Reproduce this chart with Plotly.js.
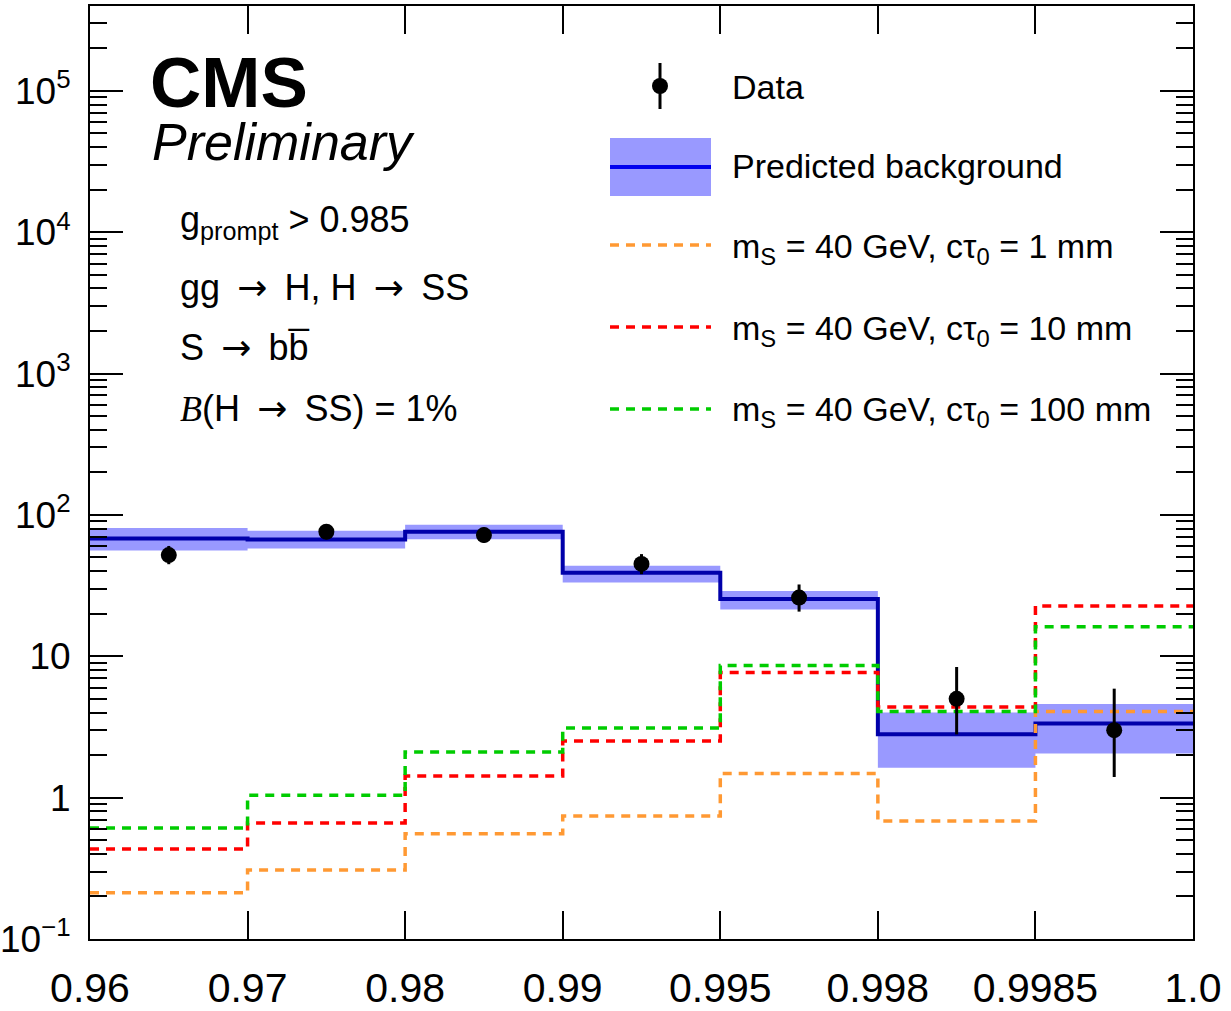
<!DOCTYPE html>
<html>
<head>
<meta charset="utf-8">
<script src="https://cdn.plot.ly/plotly-3.0.1.min.js"></script>
<style>html,body{margin:0;padding:0;background:#fff;}#chart{width:1231px;height:1011px;}</style>
</head>
<body>
<div id="chart"></div>
<script>
// ---- data ----
const binEdgeLabels = ['0.96','0.97','0.98','0.99','0.995','0.998','0.9985','1.0'];
const bkg       = [68, 67, 76, 39, 25.4, 2.81, 3.34];
const bkgUp     = [80.7, 77.2, 85.1, 43.6, 29.0, 4.0, 4.6];
const bkgDown   = [56, 57.8, 67.4, 33.2, 21.4, 1.63, 2.05];
const dataY     = [52, 76, 72, 45, 26, 5, 3];
const dataErrUp   = [8.3, 9.8, 9.5, 7.8, 6.2, 3.4, 2.9];
const dataErrDown = [7.2, 8.7, 8.5, 6.9, 5.3, 2.2, 1.6];
const sig1mm    = [0.212, 0.308, 0.556, 0.74, 1.48, 0.684, 4.06];
const sig10mm   = [0.434, 0.662, 1.42, 2.52, 7.67, 4.38, 22.7];
const sig100mm  = [0.61, 1.04, 2.10, 3.11, 8.59, 4.06, 16.2];
const yTickVals = [0.1, 1, 10, 100, 1000, 10000, 100000];
const yTickText = ['10<sup>\u22121</sup>','1','10','10<sup>2</sup>','10<sup>3</sup>','10<sup>4</sup>','10<sup>5</sup>'];

const C_BAND = '#9999ff', C_BKG = '#0000aa', C_ORANGE = '#ff9933', C_RED = '#ff0000', C_GREEN = '#00cc00';
const FONT = 'Liberation Sans, Arial, sans-serif';
const DASH = '9px,7px';

const nb = bkg.length;
const edges = binEdgeLabels.map((_, i) => i);
const centers = dataY.map((_, i) => i + 0.5);
const stepY = arr => arr.concat([arr[arr.length - 1]]);

// band polygons
const bx = [], by = [];
for (let i = 0; i < nb; i++) {
  bx.push(i, i + 1, i + 1, i, i, null);
  by.push(bkgDown[i], bkgDown[i], bkgUp[i], bkgUp[i], bkgDown[i], null);
}

const traces = [
  {x: bx, y: by, type: 'scatter', mode: 'lines', fill: 'toself', fillcolor: C_BAND,
   line: {width: 0, color: C_BAND}, hoverinfo: 'skip'},
  {x: edges, y: stepY(bkg), type: 'scatter', mode: 'lines', line: {shape: 'hv', color: C_BKG, width: 4}},
  {x: edges, y: stepY(sig1mm), type: 'scatter', mode: 'lines', line: {shape: 'hv', color: C_ORANGE, width: 3.5, dash: DASH}},
  {x: edges, y: stepY(sig10mm), type: 'scatter', mode: 'lines', line: {shape: 'hv', color: C_RED, width: 3.5, dash: DASH}},
  {x: edges, y: stepY(sig100mm), type: 'scatter', mode: 'lines', line: {shape: 'hv', color: C_GREEN, width: 3.5, dash: DASH}},
  {x: centers, y: dataY, type: 'scatter', mode: 'markers',
   marker: {color: 'black', size: 16},
   error_y: {type: 'data', symmetric: false, array: dataErrUp, arrayminus: dataErrDown,
             thickness: 3, width: 0, color: 'black'}}
];

// minor ticks on log axis
const minorVals = [];
for (let e = -1; e <= 5; e++) for (let d = 2; d <= 9; d++) minorVals.push(d * Math.pow(10, e));

// geometry in pixels
const W = 1231, H = 1011, L = 90, R = 38, T = 6, B = 72;
const pw = W - L - R, ph = H - T - B;
const px = x => (x - L) / pw;
const py = y => (H - B - y) / ph;

const shapes = [
  {type: 'line', xref: 'paper', yref: 'paper', x0: px(660), x1: px(660), y0: py(63), y1: py(109), line: {color: 'black', width: 3}},
  {type: 'circle', xref: 'paper', yref: 'paper', x0: px(652), x1: px(668), y0: py(78), y1: py(94), fillcolor: 'black', line: {color: 'black', width: 0}},
  {type: 'rect', xref: 'paper', yref: 'paper', x0: px(610), x1: px(711), y0: py(138), y1: py(196), fillcolor: C_BAND, line: {width: 0}},
  {type: 'line', xref: 'paper', yref: 'paper', x0: px(610), x1: px(711), y0: py(167), y1: py(167), line: {color: '#0000ee', width: 4}},
  {type: 'line', xref: 'paper', yref: 'paper', x0: px(610), x1: px(711), y0: py(245), y1: py(245), line: {color: C_ORANGE, width: 3.5, dash: DASH}},
  {type: 'line', xref: 'paper', yref: 'paper', x0: px(610), x1: px(711), y0: py(327), y1: py(327), line: {color: C_RED, width: 3.5, dash: DASH}},
  {type: 'line', xref: 'paper', yref: 'paper', x0: px(610), x1: px(711), y0: py(409), y1: py(409), line: {color: C_GREEN, width: 3.5, dash: DASH}}
];

function ann(text, x, y, size, extra) {
  return Object.assign({text: text, xref: 'paper', yref: 'paper', x: px(x), y: py(y),
    xanchor: 'left', yanchor: 'middle', showarrow: false,
    font: {family: FONT, size: size, color: 'black'}}, extra || {});
}
const ARROW = '<span style="font-family:DejaVu Sans">\u2009\u2192\u2009</span>';

const annotations = [
  ann('<b>CMS</b>', 148, 82, 71),
  ann('<i>Preliminary</i>', 150, 142, 52),
  ann('g<sub>prompt</sub> > 0.985', 178, 222, 36),
  ann('gg ' + ARROW + ' H, H ' + ARROW + ' SS', 178, 287, 36),
  ann('S ' + ARROW + ' bb\u0305', 178, 347, 36),
  ann('<span style="font-family:Liberation Serif"><i>B</i></span>(H ' + ARROW + ' SS) = 1%', 178, 408, 36),
  ann('Data', 730, 87, 34),
  ann('Predicted background', 730, 166, 34),
  ann('m<sub>S</sub> = 40 GeV, c\u03c4<sub>0</sub> = 1 mm', 730, 248, 34),
  ann('m<sub>S</sub> = 40 GeV, c\u03c4<sub>0</sub> = 10 mm', 730, 330, 34),
  ann('m<sub>S</sub> = 40 GeV, c\u03c4<sub>0</sub> = 100 mm', 730, 412, 34)
];

const layout = {
  width: W, height: H,
  margin: {l: L, r: R, t: T, b: B},
  paper_bgcolor: 'white', plot_bgcolor: 'white',
  showlegend: false,
  font: {family: FONT, color: 'black'},
  xaxis: {
    type: 'linear', range: [0, 7], tickmode: 'array', tickvals: edges, ticktext: binEdgeLabels,
    ticks: 'inside', ticklen: 28, tickwidth: 2, tickcolor: 'black',
    showline: true, linewidth: 2, linecolor: 'black', mirror: 'ticks',
    showgrid: false, zeroline: false, automargin: false,
    tickfont: {family: FONT, size: 41, color: 'black'}, ticklabelstandoff: 12
  },
  yaxis: {
    type: 'log', range: [-1, 5.6], tickmode: 'array', tickvals: yTickVals, ticktext: yTickText,
    ticks: 'inside', ticklen: 33, tickwidth: 2, tickcolor: 'black',
    minor: {tickmode: 'array', tickvals: minorVals, ticks: 'inside', ticklen: 17, tickwidth: 2, tickcolor: 'black', showgrid: false},
    showline: true, linewidth: 2, linecolor: 'black', mirror: 'ticks',
    showgrid: false, zeroline: false, automargin: false,
    tickfont: {family: FONT, size: 37, color: 'black'}, ticklabelstandoff: 10
  },
  shapes: shapes,
  annotations: annotations
};

Plotly.newPlot('chart', traces, layout, {displayModeBar: false, staticPlot: true});
</script>
</body>
</html>
